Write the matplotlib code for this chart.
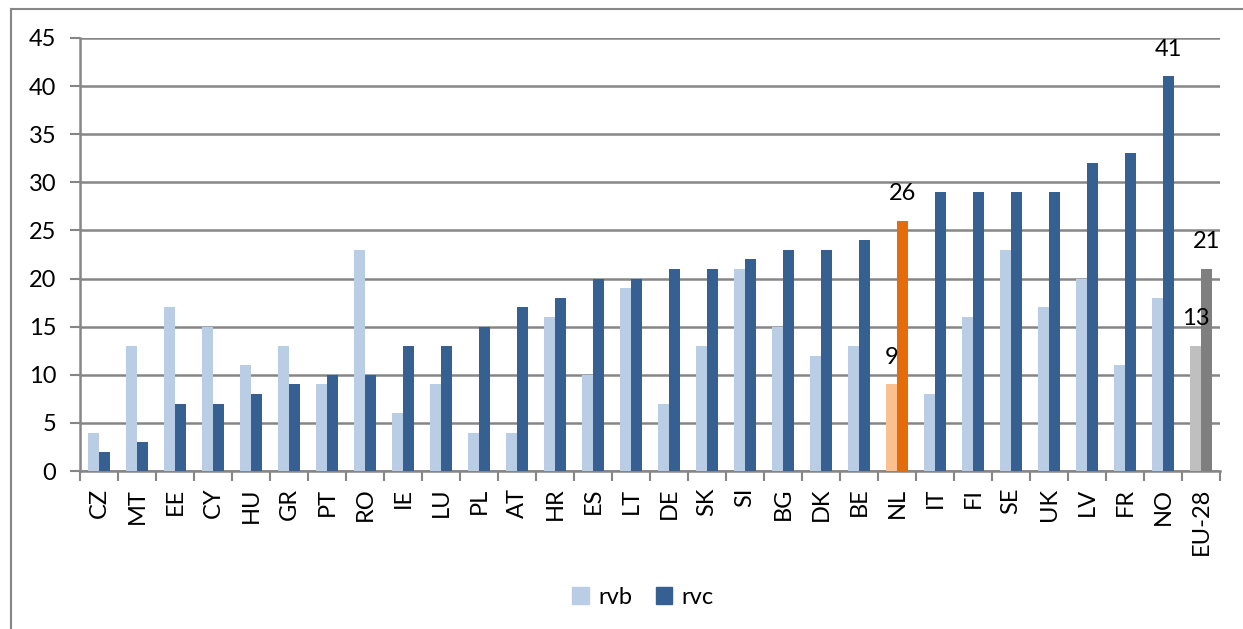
import matplotlib
matplotlib.use("Agg")
import matplotlib.pyplot as plt
import numpy as np
from matplotlib.lines import Line2D
from matplotlib.patches import Patch

countries = ["CZ", "MT", "EE", "CY", "HU", "GR", "PT", "RO", "IE", "LU", "PL", "AT",
             "HR", "ES", "LT", "DE", "SK", "SI", "BG", "DK", "BE", "NL", "IT", "FI",
             "SE", "UK", "LV", "FR", "NO", "EU-28"]
rvb = [4, 13, 17, 15, 11, 13, 9, 23, 6, 9, 4, 4, 16, 10, 19, 7, 13, 21, 15, 12, 13, 9,
       8, 16, 23, 17, 20, 11, 18, 13]
rvc = [2, 3, 7, 7, 8, 9, 10, 10, 13, 13, 15, 17, 18, 20, 20, 21, 21, 22, 23, 23, 24, 26,
       29, 29, 29, 29, 32, 33, 41, 21]
labelled_rvb = ["NL", "EU-28"]
labelled_rvc = ["NL", "NO", "EU-28"]
yticks = [0, 5, 10, 15, 20, 25, 30, 35, 40, 45]

plt.rcParams['font.family'] = ['Lato', 'DejaVu Sans']
FS = 17

light = "#B9CDE5"
dark = "#376092"
light_map = {"NL": "#FAC090", "EU-28": "#BFBFBF"}
dark_map = {"NL": "#E46C0A", "EU-28": "#7F7F7F"}

fig = plt.figure(figsize=(12.43, 6.29), dpi=100)
ax = fig.add_axes([80/1243, 1-471/629, 1140/1243, 433/629])

x = np.arange(len(countries))
w = 0.29
cb = [light_map.get(c, light) for c in countries]
cc = [dark_map.get(c, dark) for c in countries]
ax.bar(x - w/2, rvb, width=w, color=cb, zorder=3)
ax.bar(x + w/2, rvc, width=w, color=cc, zorder=3)

for i, c in enumerate(countries):
    if c in labelled_rvb:
        ax.annotate(str(rvb[i]), (x[i] - w/2, rvb[i]), xytext=(0, 12),
                    textcoords="offset points", ha="center", va="bottom", fontsize=FS)
    if c in labelled_rvc:
        ax.annotate(str(rvc[i]), (x[i] + w/2, rvc[i]), xytext=(0, 12),
                    textcoords="offset points", ha="center", va="bottom", fontsize=FS)

ax.set_xlim(-0.5, len(countries) - 0.5)
ax.set_ylim(0, 45)
ax.set_yticks(yticks)
ax.set_yticklabels([str(v) for v in yticks], fontsize=FS)
ax.set_xticks(x)
ax.set_xticklabels(countries, rotation=90, fontsize=FS)
ax.tick_params(axis='x', which='major', length=0, pad=12)
ax.set_xticks(np.arange(-0.5, len(countries)), minor=True)
ax.tick_params(axis='x', which='minor', length=7, color="#868686", width=1.5)
ax.tick_params(axis='y', length=7, color="#868686", width=1.5, pad=10)

ax.grid(axis='y', color="#868686", linewidth=1.8, zorder=0)
ax.set_axisbelow(True)
for s in ["top", "right"]:
    ax.spines[s].set_visible(False)
for s in ["left", "bottom"]:
    ax.spines[s].set_color("#868686")
    ax.spines[s].set_linewidth(1.8)

handles = [Patch(color=light, label="rvb"), Patch(color=dark, label="rvc")]
fig.legend(handles=handles, loc="center", bbox_to_anchor=(643/1243, 1-597/629), ncol=2,
           frameon=False, fontsize=FS, handlelength=0.7, handleheight=0.7,
           handletextpad=0.4, columnspacing=1.0)

# outer chart frame
fig.add_artist(Line2D([11/1243, 11/1243], [0, 1-9/629], color="#868686", linewidth=1.5,
                      transform=fig.transFigure))
fig.add_artist(Line2D([11/1243, 1], [1-9/629, 1-9/629], color="#868686", linewidth=1.5,
                      transform=fig.transFigure))

fig.savefig("out.png", dpi=100)
